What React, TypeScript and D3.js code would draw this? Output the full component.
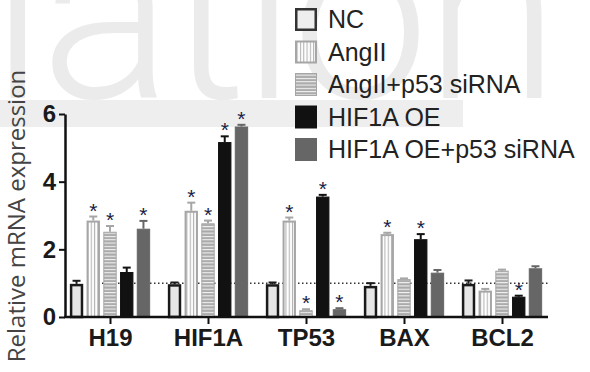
import { useEffect, useRef } from 'react';
import * as d3 from 'd3';

// genes on the x axis
const categories = ['H19', 'HIF1A', 'TP53', 'BAX', 'BCL2'];
const groups = ['NC', 'AngII', 'AngII+p53 siRNA', 'HIF1A OE', 'HIF1A OE+p53 siRNA'];

// mean relative expression, one array per group (same order as categories)
const ncValues = [0.98, 0.97, 0.97, 0.92, 0.98];
const angValues = [2.85, 3.14, 2.85, 2.45, 0.78];
const angSiValues = [2.52, 2.77, 0.2, 1.12, 1.37];
const oeValues = [1.33, 5.17, 3.56, 2.3, 0.6];
const oeSiValues = [2.61, 5.63, 0.23, 1.31, 1.44];

// error bar (upper only)
const ncErr = [0.09, 0.05, 0.05, 0.08, 0.1];
const angErr = [0.12, 0.24, 0.09, 0.04, 0.05];
const angSiErr = [0.17, 0.08, 0.03, 0.02, 0.03];
const oeErr = [0.13, 0.17, 0.05, 0.15, 0.03];
const oeSiErr = [0.23, 0.05, 0.03, 0.08, 0.06];

// significance marks
const ncSig = [false, false, false, false, false];
const angSig = [true, true, true, true, false];
const angSiSig = [true, true, true, false, false];
const oeSig = [false, true, true, true, true];
const oeSiSig = [true, true, true, false, false];

const yTicks = [0, 2, 4, 6];
const baseline = 1;

const seriesValues = [ncValues, angValues, angSiValues, oeValues, oeSiValues];
const seriesErr = [ncErr, angErr, angSiErr, oeErr, oeSiErr];
const seriesSig = [ncSig, angSig, angSiSig, oeSig, oeSiSig];

const styles = [
  { fill: '#e6e6e6', stroke: '#1a1a1a', sw: 2.5 },
  { fill: 'url(#vstripe)', stroke: '#a6a6a6', sw: 2 },
  { fill: 'url(#hstripe)', stroke: '#a6a6a6', sw: 1 },
  { fill: '#111111', stroke: '#111111', sw: 1 },
  { fill: '#666666', stroke: '#666666', sw: 1 },
];

const App = () => {
  const svgRef = useRef<SVGSVGElement>(null);

  useEffect(() => {
    const svg = d3.select(svgRef.current);
    svg.selectAll('*').remove();

    const width = 590;
    const height = 372;
    const axisLeftX = 65;
    const axisRightX = 548;

    const defs = svg.append('defs');
    const vp = defs.append('pattern')
      .attr('id', 'vstripe')
      .attr('patternUnits', 'userSpaceOnUse')
      .attr('width', 3.3).attr('height', 10);
    vp.append('rect').attr('width', 3.3).attr('height', 10).attr('fill', '#ffffff');
    vp.append('rect').attr('x', 1.6).attr('width', 1.1).attr('height', 10).attr('fill', '#b4b4b4');

    const hp = defs.append('pattern')
      .attr('id', 'hstripe')
      .attr('patternUnits', 'userSpaceOnUse')
      .attr('width', 10).attr('height', 3.3);
    hp.append('rect').attr('width', 10).attr('height', 3.3).attr('fill', '#a9a9a9');
    hp.append('rect').attr('y', 1.6).attr('width', 10).attr('height', 1.1).attr('fill', '#f2f2f2');

    svg.append('rect').attr('width', width).attr('height', height).attr('fill', '#ffffff');

    // background watermark
    svg.append('text')
      .attr('x', -10)
      .attr('y', 98)
      .attr('font-family', 'Roboto, "Liberation Sans", sans-serif')
      .attr('font-weight', 300)
      .attr('font-size', 246)
      .attr('letter-spacing', -5)
      .attr('fill', '#ebebeb')
      .text('lation');
    svg.append('rect')
      .attr('x', 0).attr('y', 100).attr('width', 463).attr('height', 27)
      .attr('fill', '#eeeeee');

    const y = d3.scaleLinear().domain([0, 6]).range([317, 114]);
    const x = d3.scalePoint().domain(categories).range([110, 502]);
    const inner = d3.scaleBand().domain(groups).range([-43.5, 43.5]).padding(0.2);

    // dotted reference line at 1
    svg.append('line')
      .attr('x1', 102).attr('x2', axisRightX)
      .attr('y1', y(baseline)).attr('y2', y(baseline))
      .attr('stroke', '#333')
      .attr('stroke-width', 1.5)
      .attr('stroke-dasharray', '1.5,2.5');

    // bars
    groups.forEach((g, gi) => {
      const st = styles[gi];
      const layer = svg.append('g');
      categories.forEach((c, ci) => {
        const v = seriesValues[gi][ci];
        const e = seriesErr[gi][ci];
        const bx = (x(c) as number) + (inner(g) as number);
        const bw = inner.bandwidth();
        const cx = bx + bw / 2;

        // error bar
        layer.append('line')
          .attr('x1', cx).attr('x2', cx)
          .attr('y1', y(v)).attr('y2', y(v + e))
          .attr('stroke', st.stroke).attr('stroke-width', 2);
        layer.append('line')
          .attr('x1', cx - 4).attr('x2', cx + 4)
          .attr('y1', y(v + e)).attr('y2', y(v + e))
          .attr('stroke', st.stroke).attr('stroke-width', 2);

        layer.append('rect')
          .attr('x', bx + st.sw / 2)
          .attr('y', y(v) + st.sw / 2)
          .attr('width', bw - st.sw)
          .attr('height', Math.max(0, y(0) - y(v) - st.sw / 2))
          .attr('fill', st.fill)
          .attr('stroke', st.stroke)
          .attr('stroke-width', st.sw);

        if (seriesSig[gi][ci]) {
          layer.append('text')
            .attr('x', cx)
            .attr('y', y(v + e) + 1)
            .attr('text-anchor', 'middle')
            .attr('font-family', '"Liberation Sans", Arial, sans-serif')
            .attr('font-size', 21)
            .attr('fill', '#1a1d45')
            .text('*');
        }
      });
    });

    // y axis
    const yAxis = svg.append('g')
      .attr('transform', `translate(${axisLeftX},0)`)
      .call(d3.axisLeft(y).tickValues(yTicks).tickSize(6).tickSizeOuter(0).tickPadding(3).tickFormat(d3.format('d')));
    yAxis.select('.domain').attr('stroke', '#111').attr('stroke-width', 2.5);
    yAxis.selectAll('.tick line').attr('stroke', '#111').attr('stroke-width', 2);
    yAxis.selectAll('.tick text')
      .attr('font-family', '"Liberation Sans", Arial, sans-serif')
      .attr('font-weight', 'bold')
      .attr('font-size', 24)
      .attr('fill', '#1a1a1a');

    // x axis
    const xAxis = svg.append('g')
      .attr('transform', `translate(0,${y(0)})`)
      .call(d3.axisBottom(x).tickSize(7).tickSizeOuter(0).tickPadding(5));
    xAxis.select('.domain').remove();
    xAxis.append('line')
      .attr('x1', axisLeftX - 1).attr('x2', axisRightX)
      .attr('stroke', '#111').attr('stroke-width', 2.5);
    xAxis.selectAll('.tick line').attr('stroke', '#111').attr('stroke-width', 2);
    xAxis.selectAll('.tick text')
      .attr('font-family', '"Liberation Sans", Arial, sans-serif')
      .attr('font-weight', 'bold')
      .attr('font-size', 24)
      .attr('fill', '#1a1a1a');

    // y title
    svg.append('text')
      .attr('transform', `translate(25,${216}) rotate(-90)`)
      .attr('text-anchor', 'middle')
      .attr('font-family', '"Open Sans", sans-serif')
      .attr('font-size', 24)
      .attr('fill', '#444')
      .text('Relative mRNA expression');

    // legend
    const legend = svg.append('g').attr('transform', 'translate(295,8)');
    groups.forEach((g, gi) => {
      const st = styles[gi];
      const row = legend.append('g').attr('transform', `translate(0,${gi * 32.5})`);
      const sw = gi === 0 ? 2.5 : st.sw;
      row.append('rect')
        .attr('x', sw / 2).attr('y', sw / 2)
        .attr('width', 22 - sw).attr('height', 23 - sw)
        .attr('fill', gi === 0 ? '#eeeeee' : st.fill)
        .attr('stroke', gi === 0 ? '#333' : st.stroke)
        .attr('stroke-width', sw);
      row.append('text')
        .attr('x', 33)
        .attr('y', 20)
        .attr('font-family', '"Liberation Sans", Arial, sans-serif')
        .attr('font-size', 25)
        .attr('fill', '#222')
        .text(g);
    });
  }, []);

  return (
    <svg
      ref={svgRef}
      width={590}
      height={372}
      style={{ position: 'absolute', left: 0, top: 0, display: 'block' }}
    ></svg>
  );
};

export default App;
